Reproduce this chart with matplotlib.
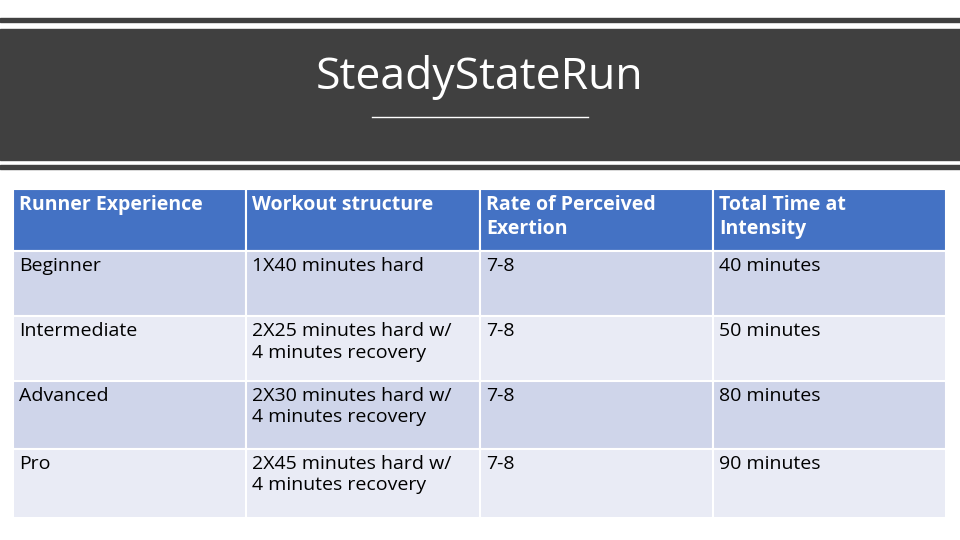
import matplotlib
matplotlib.use("Agg")
import matplotlib.pyplot as plt
from matplotlib.patches import Rectangle

plt.rcParams['font.family'] = ['Open Sans', 'DejaVu Sans']

title = "SteadyStateRun"
headers = ["Runner Experience", "Workout structure", "Rate of Perceived\nExertion", "Total Time at\nIntensity"]
experience = ["Beginner", "Intermediate", "Advanced", "Pro"]
structure = ["1X40 minutes hard", "2X25 minutes hard w/\n4 minutes recovery",
             "2X30 minutes hard w/\n4 minutes recovery", "2X45 minutes hard w/\n4 minutes recovery"]
rpe = ["7-8", "7-8", "7-8", "7-8"]
total_time = ["40 minutes", "50 minutes", "80 minutes", "90 minutes"]

fig = plt.figure(figsize=(9.6, 5.4), dpi=100)
ax = fig.add_axes([0, 0, 1, 1])
ax.set_xlim(0, 960); ax.set_ylim(540, 0); ax.axis('off')

dark = '#404040'
ax.add_patch(Rectangle((0, 18), 960, 4, color=dark))
ax.add_patch(Rectangle((0, 29), 960, 131, color=dark))
ax.add_patch(Rectangle((0, 165), 960, 4, color=dark))
ax.text(480, 78, title, color='white', fontsize=32, ha='center', va='center')
ax.plot([372, 588], [117, 117], color='white', lw=1)

col_x = [13, 246, 480, 713, 946]
row_y = [189, 251, 316, 381, 449, 518]
rows = [headers] + [list(r) for r in zip(experience, structure, rpe, total_time)]
fills = ['#4472C4', '#CFD5EA', '#E9EBF5', '#CFD5EA', '#E9EBF5']
for i, row in enumerate(rows):
    for j, txt in enumerate(row):
        x0, x1 = col_x[j], col_x[j + 1]
        y0, y1 = row_y[i], row_y[i + 1]
        ax.add_patch(Rectangle((x0, y0), x1 - x0, y1 - y0, facecolor=fills[i],
                               edgecolor='white', lw=1.5))
        ax.text(x0 + 6, y0 + 6, txt, fontsize=14, va='top', ha='left',
                color='white' if i == 0 else 'black',
                fontweight='bold' if i == 0 else 'normal', linespacing=1.25)

fig.savefig('out.png', dpi=100)
